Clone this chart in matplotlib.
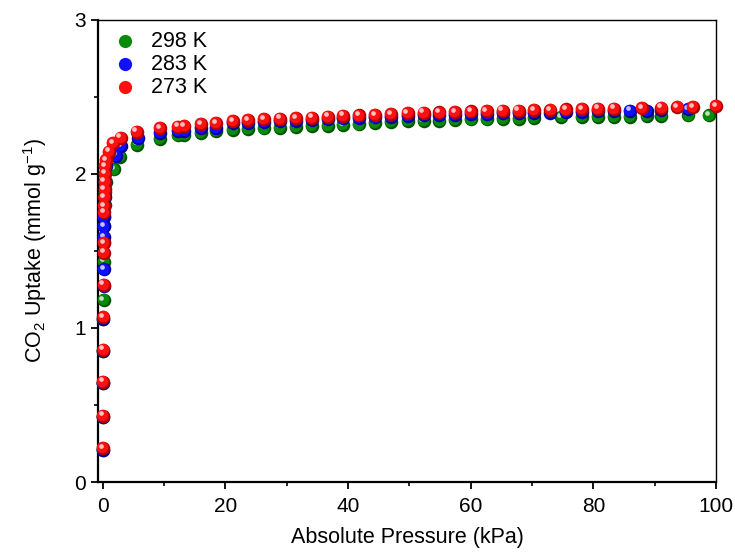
import matplotlib
matplotlib.use("Agg")
import matplotlib.pyplot as plt
from matplotlib.transforms import offset_copy

plt.rcParams['font.family'] = ['Liberation Sans', 'DejaVu Sans']
plt.rcParams['mathtext.fontset'] = 'custom'
plt.rcParams['mathtext.rm'] = 'Liberation Sans'
plt.rcParams['mathtext.it'] = 'Liberation Sans:italic'

# 298 K
p_298 = [0.02, 0.03, 0.05, 0.07, 0.09, 0.11, 0.14, 0.16, 0.2, 0.24, 0.28, 0.35, 0.45,
         1.85, 2.8, 5.6, 9.3, 12.3, 13.3, 16.0, 18.5, 21.2, 23.7, 26.3, 28.9, 31.5,
         34.1, 36.7, 39.2, 41.8, 44.4, 47.0, 49.7, 52.3, 54.9, 57.4, 60.0, 62.6, 65.2,
         67.8, 70.3, 74.8, 78.2, 80.8, 83.4, 86.0, 88.7, 91.1, 95.5, 98.9]
q_298 = [0.21, 0.42, 0.64, 0.85, 1.06, 1.18, 1.43, 1.56, 1.66, 1.73, 1.80, 1.88, 1.95,
         2.03, 2.11, 2.19, 2.23, 2.25, 2.252, 2.264, 2.28, 2.286, 2.29, 2.296, 2.30, 2.305,
         2.31, 2.314, 2.318, 2.322, 2.33, 2.338, 2.342, 2.342, 2.346, 2.35, 2.354, 2.354,
         2.358, 2.358, 2.364, 2.37, 2.37, 2.372, 2.372, 2.372, 2.376, 2.376, 2.38, 2.38]

# 283 K
p_283 = [0.02, 0.04, 0.06, 0.08, 0.1, 0.12, 0.14, 0.17, 0.2, 0.23, 0.28, 0.35, 0.5,
         2.1, 3.0, 5.8, 9.3, 12.3, 13.3, 16.0, 18.5, 21.2, 23.7, 26.3, 28.9, 31.5,
         34.1, 36.7, 39.2, 41.8, 44.4, 47.0, 49.7, 52.3, 54.9, 57.4, 60.0, 62.6, 65.2,
         67.8, 70.3, 73.0, 75.5, 78.2, 80.8, 83.4, 86.0, 88.7, 91.1, 95.5]
q_283 = [0.21, 0.42, 0.64, 0.85, 1.06, 1.27, 1.38, 1.59, 1.66, 1.72, 1.85, 1.95, 2.05,
         2.12, 2.18, 2.236, 2.264, 2.28, 2.282, 2.297, 2.30, 2.33, 2.334, 2.339, 2.342,
         2.346, 2.35, 2.356, 2.361, 2.364, 2.367, 2.372, 2.378, 2.382, 2.384, 2.385, 2.39,
         2.391, 2.394, 2.395, 2.398, 2.399, 2.403, 2.404, 2.408, 2.409, 2.411, 2.411,
         2.414, 2.42]

# 273 K
p_273 = [0.02, 0.04, 0.06, 0.08, 0.1, 0.12, 0.15, 0.17, 0.2, 0.22, 0.25, 0.28, 0.3,
         0.33, 0.4, 0.55, 1.0, 1.7, 2.9, 5.5, 9.3, 12.3, 13.3, 16.0, 18.5, 21.2, 23.7,
         26.3, 28.9, 31.5, 34.1, 36.7, 39.2, 41.8, 44.4, 47.0, 49.7, 52.3, 54.9, 57.4,
         60.0, 62.6, 65.2, 67.8, 70.3, 73.0, 75.5, 78.2, 80.8, 83.4, 87.9, 91.1, 93.7,
         96.3, 100.0]
q_273 = [0.22, 0.43, 0.65, 0.86, 1.07, 1.28, 1.49, 1.55, 1.75, 1.79, 1.85, 1.90, 1.95,
         2.00, 2.05, 2.09, 2.145, 2.20, 2.236, 2.275, 2.297, 2.307, 2.31, 2.323, 2.33,
         2.344, 2.35, 2.355, 2.358, 2.362, 2.366, 2.372, 2.377, 2.38, 2.383, 2.388,
         2.394, 2.398, 2.40, 2.401, 2.406, 2.407, 2.41, 2.411, 2.414, 2.415, 2.419,
         2.42, 2.424, 2.425, 2.427, 2.43, 2.433, 2.433, 2.44]

labels = ['298 K', '283 K', '273 K']
colors = ['#0a8a0a', '#1010ff', '#ff1010']
dark = ['#005500', '#0000a0', '#b00000']


def spheres(ax, x, y, c, cd, z, label):
    # crude ball look: dark rim, coloured body, small white glint
    s = 95
    ax.scatter(x, y, s=s, color=cd, linewidths=0, zorder=z, clip_on=False)
    tr1 = offset_copy(ax.transData, fig=ax.figure, x=-0.6, y=0.6, units='points')
    h = ax.scatter(x, y, s=s * 0.72, color=c, linewidths=0, zorder=z + 0.1,
                   transform=tr1, label=label, clip_on=False)
    tr2 = offset_copy(ax.transData, fig=ax.figure, x=-1.6, y=1.8, units='points')
    ax.scatter(x, y, s=s * 0.12, color='white', alpha=0.75, linewidths=0,
               zorder=z + 0.2, transform=tr2, clip_on=False)
    return h


fig = plt.figure(figsize=(7.35, 5.52), dpi=100)
ax = fig.add_axes([0.1333, 0.1268, 0.8408, 0.837])

hs = []
hs.append(spheres(ax, p_298, q_298, colors[0], dark[0], 3, labels[0]))
hs.append(spheres(ax, p_283, q_283, colors[1], dark[1], 4, labels[1]))
hs.append(spheres(ax, p_273, q_273, colors[2], dark[2], 5, labels[2]))

ax.set_xlim(-0.8, 100)
ax.set_ylim(0, 3)
ax.set_xticks([0, 20, 40, 60, 80, 100])
ax.set_xticks(range(10, 100, 20), minor=True)
ax.set_yticks([0, 1, 2, 3])
ax.set_yticks([0.5, 1.5, 2.5], minor=True)
ax.tick_params(which='major', direction='out', length=5, width=1.3, labelsize=15)
ax.tick_params(axis='x', which='major', pad=6)
ax.tick_params(which='minor', direction='out', length=3, width=1.2)

for side in ['left', 'bottom']:
    ax.spines[side].set_linewidth(1.6)
for side in ['top', 'right']:
    ax.spines[side].set_linewidth(1.0)

ax.set_xlabel('Absolute Pressure (kPa)', fontsize=15.5, labelpad=8)
ax.set_ylabel('CO$_2$ Uptake (mmol g$^{-1}$)', fontsize=15.5, labelpad=18)

ax.legend(handles=hs, loc='upper left', frameon=False, fontsize=15.5,
          handletextpad=0.45, labelspacing=0.1, borderaxespad=0.1,
          borderpad=0.4, handlelength=1.5, markerscale=1.15)

fig.savefig('out.png', dpi=100)
